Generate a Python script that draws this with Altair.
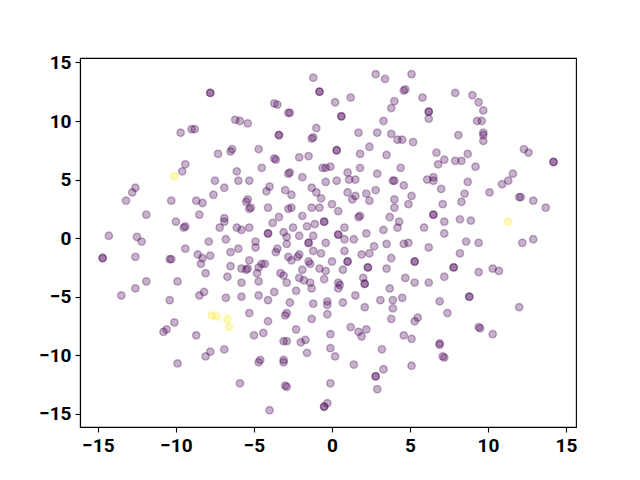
import altair as alt
import pandas as pd

# Scatter values (x, y) — purple class
points_center = [
    (-1.2, 13.7), (2.8, 14.0), (3.4, 13.6), (5.1, 14.0), (-0.8, 12.5), (-0.8, 12.5), (0.2, 11.6), (1.2, 12.0), (-3.7, 11.5), (-3.5, 11.4),
    (-2.8, 10.7), (-2.7, 10.7), (4.6, 12.6), (4.7, 12.7), (4.0, 11.7), (3.8, 11.1), (-5.4, 9.8), (0.6, 10.4), (0.6, 10.4), (3.3, 10.0),
    (-1.0, 9.4), (-1.3, 8.5), (-1.2, 8.6), (-3.4, 8.8), (-3.4, 8.8), (1.7, 9.0), (2.9, 9.0), (3.8, 8.9), (4.2, 8.4), (4.5, 8.4),
    (5.2, 8.2), (-4.7, 7.6), (0.3, 7.5), (0.3, 7.5), (1.8, 7.2), (2.4, 7.8), (3.5, 7.1), (-3.7, 6.8), (-3.6, 6.7), (-2.1, 6.9),
    (-1.5, 7.0), (-4.5, 6.0), (-0.6, 6.0), (-0.4, 6.0), (-0.1, 6.1), (1.8, 6.0), (4.4, 6.0), (-5.3, 4.9), (-2.8, 5.5), (-2.7, 5.6),
    (-1.9, 5.2), (-0.4, 4.8), (0.3, 4.9), (1.0, 5.6), (1.1, 5.0), (1.5, 5.0), (2.9, 5.5), (3.9, 4.9), (4.0, 4.9), (4.6, 4.5),
    (-4.0, 4.4), (-4.2, 4.0), (-3.0, 4.1), (-2.6, 3.7), (-1.3, 4.3), (-1.0, 3.9), (-0.7, 3.4), (1.0, 3.9), (1.3, 3.3), (1.5, 3.6),
    (2.2, 3.8), (2.4, 3.2), (2.8, 4.1), (4.0, 3.3), (5.1, 3.6), (4.9, 2.9), (-5.4, 3.3), (-5.5, 3.1), (-5.3, 2.5), (-5.2, 2.6),
    (-4.1, 2.6), (-2.8, 2.5), (-2.6, 2.6), (-1.3, 2.6), (-0.8, 2.6), (0.0, 2.9), (0.4, 2.3), (-1.9, 1.9), (-3.4, 1.8), (-3.8, 1.3),
    (1.7, 1.8), (1.8, 1.9), (4.0, 2.6), (3.7, 1.8), (4.3, 1.4), (4.2, 0.9), (3.3, 0.7), (2.2, 0.4), (-5.3, 0.9), (-4.1, 0.4), (-4.1, 0.4),
    (-3.1, 0.5), (-2.9, 0.1), (-2.5, 0.9), (-2.1, 0.2), (-1.6, 1.0), (-1.1, 1.2), (-0.5, 1.4), (-0.5, 1.4), (0.4, 0.3), (0.4, 0.3),
    (0.8, 0.9), (1.4, -0.1), (-0.4, -0.4), (-1.5, -0.4), (-1.5, -0.4), (-4.9, -0.3), (-4.9, -0.8), (4.9, -0.4), (4.6, -0.5), (-1.2, 0.2), (0.8, -0.1),
    (-2.9, -0.5), (3.5, -0.5), (-3.5, -0.9), (-3.6, -1.2), (-5.3, -1.9), (-2.8, -1.6), (-2.6, -1.9), (-2.2, -1.6), (-2.1, -1.4), (-1.5, -2.0),
    (-1.4, -2.2), (-1.2, -1.1), (-0.7, -1.3), (0.0, -2.0), (0.8, -1.1), (1.0, -2.0), (1.0, -2.0), (1.9, -1.4), (2.4, -1.3), (2.7, -0.7),
    (3.8, -1.7), (5.3, -2.0), (5.3, -2.0), (-5.4, -2.6), (-4.7, -2.5), (-4.5, -2.2), (-4.3, -2.2), (-4.8, -3.0), (-4.7, -3.7), (-3.3, -3.0),
    (-3.1, -3.2), (-2.9, -3.8), (-1.9, -2.7), (-2.1, -3.4), (-1.8, -3.6), (-1.4, -3.8), (-1.3, -4.3), (-0.8, -2.6), (-0.4, -2.8), (-0.5, -3.5),
    (0.4, -3.8), (0.5, -4.0), (0.4, -4.3), (0.7, -2.7), (2.0, -3.4), (2.1, -3.9), (2.1, -3.9), (2.3, -2.5), (2.3, -2.5), (3.5, -2.6),
    (4.7, -3.4), (5.3, -3.8), (3.7, -4.3), (-4.7, -4.9), (-4.1, -5.3), (-3.7, -4.6), (-2.7, -5.5), (-2.3, -4.5), (-1.2, -5.6), (-0.3, -5.4),
    (-0.3, -5.7), (-0.3, -6.5), (0.7, -5.5), (1.5, -4.9), (2.1, -5.9), (3.1, -5.3), (3.9, -5.3), (3.9, -6.0), (4.5, -5.1), (3.8, -6.9),
    (5.3, -7.1), (5.5, -6.8), (-5.3, -6.4), (-4.1, -7.1), (-3.0, -6.6), (-2.9, -6.4), (-1.3, -6.9), (-2.3, -7.8), (-5.0, -8.3), (-4.4, -8.1),
    (-3.1, -8.8), (-2.9, -8.8), (-2.0, -8.9), (-1.7, -8.7), (-1.6, -9.8), (-0.1, -8.2), (-0.1, -9.4), (0.2, -10.1), (1.2, -7.6), (1.7, -8.0),
    (1.9, -8.4), (2.2, -7.8), (4.6, -8.3), (5.1, -8.6), (3.2, -9.5), (-4.7, -10.6), (-4.6, -10.4), (-3.1, -10.4), (-3.1, -10.6), (1.4, -10.8),
    (3.3, -11.2), (5.1, -10.9), (2.8, -11.8), (2.8, -11.8), (2.9, -12.9), (-3.0, -12.6), (-2.9, -12.7), (-0.1, -12.4), (-4.0, -14.7),
    (-0.5, -14.4), (-0.5, -14.4), (-0.3, -14.1),
]

points_left = [
    (-7.8, 12.4), (-7.8, 12.4), (-9.7, 9.0), (-9.0, 9.3), (-8.8, 9.3), (-6.2, 10.1), (-5.9, 10.0), (-7.3, 7.2), (-6.5, 7.4), (-6.4, 7.6),
    (-9.4, 6.3), (-9.6, 5.7), (-6.1, 5.7), (-12.6, 4.3), (-12.8, 3.9), (-13.2, 3.2), (-10.3, 3.2), (-8.7, 3.2), (-8.3, 3.0), (-7.5, 4.9),
    (-6.9, 4.3), (-7.6, 3.7), (-6.0, 4.9), (-11.9, 2.0), (-10.0, 1.4), (-9.5, 0.9), (-9.4, 1.0), (-8.5, 2.0), (-6.9, 1.7), (-6.9, 1.4),
    (-7.2, 0.9), (-6.1, 0.9), (-5.8, 0.7), (-14.3, 0.2), (-12.5, 0.1), (-12.2, -0.3), (-7.9, -0.3), (-6.8, -0.1),
    (-9.4, -0.9), (-14.7, -1.7), (-14.7, -1.7), (-12.6, -1.6), (-10.4, -1.8), (-10.3, -1.8), (-8.6, -1.4), (-8.3, -1.7), (-8.4, -2.2), (-7.8, -1.5),
    (-8.1, -3.0), (-6.5, -1.2), (-6.0, -0.9), (-6.5, -2.4), (-5.8, -2.6), (-5.5, -2.7), (-6.7, -3.3), (-5.8, -3.8), (-13.5, -4.9), (-12.6, -4.3),
    (-11.9, -3.7), (-9.9, -3.7), (-10.4, -5.3), (-8.5, -4.9), (-8.2, -4.6), (-6.8, -5.1), (-5.8, -5.0), (-10.1, -7.2), (-10.8, -8.0), (-10.6, -7.8),
    (-8.7, -8.3), (-6.9, -9.5), (-7.8, -9.7), (-8.1, -10.1), (-9.9, -10.7), (-5.9, -12.4),
]

points_right = [
    (5.8, 12.0), (7.9, 12.4), (9.0, 12.2), (9.4, 11.6), (9.7, 10.9), (6.2, 10.8), (6.2, 10.8), (6.2, 10.2), (9.3, 10.0), (9.6, 10.0),
    (9.7, 9.0), (9.7, 8.8), (9.7, 8.3), (8.1, 8.8), (12.3, 7.6), (12.6, 7.3), (14.2, 6.5), (14.2, 6.5), (6.7, 7.3), (6.8, 6.3),
    (7.2, 6.7), (7.9, 6.6), (8.3, 6.6), (8.7, 7.2), (9.2, 6.1), (11.6, 5.5), (11.3, 4.9), (10.9, 4.6), (6.1, 5.0), (6.5, 5.2),
    (6.5, 4.9), (8.7, 4.8), (7.0, 4.2), (8.5, 3.8), (10.1, 3.9), (12.0, 3.5), (12.1, 3.5), (12.9, 3.2), (13.7, 2.6), (7.1, 2.9),
    (8.3, 3.1), (6.5, 2.0), (6.5, 2.0), (7.2, 1.4), (8.2, 1.6), (8.9, 1.5), (5.9, 0.9), (7.2, 0.4), (8.6, -0.3), (9.4, -0.4),
    (12.2, -0.4), (12.9, -0.1), (6.2, -0.8), (8.2, -1.3), (7.8, -2.5), (7.8, -2.5), (7.2, -3.3), (9.4, -2.9), (10.3, -2.6), (10.7, -2.8),
    (6.2, -3.8), (6.9, -5.4), (7.4, -6.4), (8.8, -5.0), (8.8, -5.0), (12.0, -5.9), (9.4, -7.6), (9.5, -7.7), (10.3, -8.2), (6.9, -9.0),
    (6.9, -9.1), (7.1, -10.1), (7.2, -10.2),
]

# Yellow class
points_yellow = [(-10.1, 5.3), (-7.7, -6.6), (-7.4, -6.7), (-6.7, -6.9), (-6.6, -7.6), (11.3, 1.4)]

X_TICKS = [-15, -10, -5, 0, 5, 10, 15]
Y_TICKS = [-15, -10, -5, 0, 5, 10, 15]
CLASS_COLORS = ["#440154", "#fde725"]

rows = [{"x": x, "y": y, "c": 0} for (x, y) in points_center + points_left + points_right]
rows += [{"x": x, "y": y, "c": 1} for (x, y) in points_yellow]
df = pd.DataFrame(rows)

cscale = alt.Scale(domain=[0, 1], range=CLASS_COLORS)

chart = alt.Chart(df).mark_circle(
    size=55, opacity=1, fillOpacity=0.3, strokeOpacity=0.3, strokeWidth=1.4
).encode(
    x=alt.X("x:Q", scale=alt.Scale(domain=[-16.15, 15.64], nice=False, zero=False),
            axis=alt.Axis(values=X_TICKS, title=None, grid=False, format="d")),
    y=alt.Y("y:Q", scale=alt.Scale(domain=[-16.13, 15.38], nice=False, zero=False),
            axis=alt.Axis(values=Y_TICKS, title=None, grid=False, format="d")),
    fill=alt.Fill("c:N", scale=cscale, legend=None),
    stroke=alt.Stroke("c:N", scale=cscale, legend=None),
).properties(
    width=496, height=369,
    padding={"left": 72, "top": 50, "right": 56, "bottom": 45},
    autosize=alt.AutoSizeParams(type="none"),
).configure_view(
    stroke="black", strokeWidth=1.1
).configure_axis(
    labelFont="Roboto", labelFontWeight="bold", labelFontSize=19, labelColor="black",
    tickColor="black", tickSize=5, tickWidth=1.1, domainColor="black", domainWidth=1.1,
    labelPadding=4,
)

chart.save("out.html", embed_options={"renderer": "svg", "actions": False})
